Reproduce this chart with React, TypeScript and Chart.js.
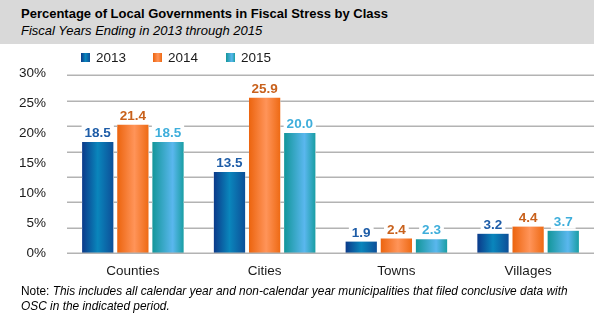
import React, { useEffect, useRef } from "react";
import { Chart, registerables } from "chart.js";

Chart.register(...registerables);

const categories = ["Counties", "Cities", "Towns", "Villages"];
const seriesNames = ["2013", "2014", "2015"];
const values2013 = [18.5, 13.5, 1.9, 3.2];
const values2014 = [21.4, 25.9, 2.4, 4.4];
const values2015 = [18.5, 20.0, 2.3, 3.7];
const yTickValues = [0, 5, 10, 15, 20, 25, 30];
const yTickLabels = ["0%", "5%", "10%", "15%", "20%", "25%", "30%"];
// horizontal gridlines in the original sit at their own spacing (8 lines), not at the labelled ticks
const gridLineValues = [0, 4.23, 8.46, 12.69, 16.91, 21.14, 25.37, 29.6];

const FONT = '"Liberation Sans", Arial, Helvetica, sans-serif';
const GRID_COLOR = "#b3b3b3";

const gradientStops: [number, string][][] = [
  [[0, "#0b3a8a"], [0.5, "#0a86bc"], [1, "#0d4f98"]],
  [[0, "#ec640e"], [0.55, "#ff9459"], [1, "#ee6a14"]],
  [[0, "#13969a"], [0.65, "#5ab7ee"], [1, "#1a9ea4"]],
];
const labelColors = ["#1d5ca7", "#c8611c", "#3eaedb"];
const swatchCss = gradientStops.map(
  (s) => `linear-gradient(to right, ${s.map(([o, c]) => `${c} ${o * 100}%`).join(", ")})`
);

const gradientPlugin = {
  id: "barGradient",
  beforeDatasetsDraw(chart: any) {
    const ctx = chart.ctx;
    chart.data.datasets.forEach((_ds: any, di: number) => {
      const meta = chart.getDatasetMeta(di);
      meta.data.forEach((el: any) => {
        const { x, width } = el.getProps(["x", "width"], true);
        const g = ctx.createLinearGradient(x - width / 2, 0, x + width / 2, 0);
        gradientStops[di].forEach(([o, c]) => g.addColorStop(o, c));
        el.options = Object.assign({}, el.options, { backgroundColor: g });
      });
    });
  },
};

// gridlines drawn after the bars, clipped so they stay behind the bars visually
const gridAndLabelPlugin = {
  id: "gridAndLabels",
  afterDatasetsDraw(chart: any) {
    const ctx = chart.ctx;
    const yScale = chart.scales.y;
    const area = chart.chartArea;

    ctx.save();
    ctx.beginPath();
    ctx.rect(area.left, area.top - 3, area.right - area.left, area.bottom - area.top + 6);
    chart.data.datasets.forEach((_ds: any, di: number) => {
      chart.getDatasetMeta(di).data.forEach((el: any) => {
        const { x, y, base, width } = el.getProps(["x", "y", "base", "width"], true);
        ctx.rect(x - width / 2, Math.min(y, base), width, Math.abs(base - y) - 1);
      });
    });
    ctx.clip("evenodd");
    ctx.strokeStyle = GRID_COLOR;
    ctx.lineWidth = 1.5;
    gridLineValues.forEach((v) => {
      const py = Math.round(yScale.getPixelForValue(v)) + 0.25;
      ctx.beginPath();
      ctx.moveTo(area.left, py);
      ctx.lineTo(area.right, py);
      ctx.stroke();
    });
    ctx.restore();

    ctx.save();
    ctx.font = `bold 13.5px ${FONT}`;
    ctx.textAlign = "center";
    ctx.textBaseline = "alphabetic";
    chart.data.datasets.forEach((ds: any, di: number) => {
      const meta = chart.getDatasetMeta(di);
      meta.data.forEach((el: any, i: number) => {
        const text = Number(ds.data[i]).toFixed(1);
        const w = ctx.measureText(text).width;
        const baseY = el.y - 5;
        ctx.fillStyle = "#ffffff";
        ctx.fillRect(el.x - w / 2 - 3, baseY - 12.5, w + 6, 15.5);
        ctx.fillStyle = labelColors[di];
        ctx.fillText(text, el.x, baseY);
      });
    });
    ctx.restore();
  },
};

export default function App() {
  const canvasRef = useRef<HTMLCanvasElement | null>(null);

  useEffect(() => {
    if (!canvasRef.current) return;
    const seriesValues = [values2013, values2014, values2015];
    const chart = new Chart(canvasRef.current, {
      type: "bar",
      data: {
        labels: categories,
        datasets: seriesNames.map((name, i) => ({
          label: name,
          data: seriesValues[i],
          backgroundColor: gradientStops[i][0][1],
          borderWidth: 0,
          categoryPercentage: 0.8,
          barPercentage: 0.89,
        })),
      },
      options: {
        responsive: false,
        animation: false,
        devicePixelRatio: 1,
        layout: { padding: { top: 24, bottom: 11, left: 0, right: 0 } },
        plugins: {
          legend: { display: false },
          tooltip: { enabled: false },
          title: { display: false },
        },
        scales: {
          x: {
            grid: { display: false, drawTicks: false },
            border: { display: false },
            ticks: {
              font: { family: FONT, size: 13.5 },
              color: "#1a1a1a",
              padding: 10,
            },
            afterFit: (s: any) => {
              s.height = 30;
            },
          },
          y: {
            min: 0,
            max: 30,
            grid: { display: false, drawTicks: false },
            border: { display: false },
            afterBuildTicks: (s: any) => {
              s.ticks = yTickValues.map((v) => ({ value: v }));
            },
            ticks: {
              autoSkip: false,
              font: { family: FONT, size: 13.5 },
              color: "#1a1a1a",
              padding: 21,
              callback: (v: any) => {
                const k = yTickValues.indexOf(Number(v));
                return k >= 0 ? yTickLabels[k] : "";
              },
            },
            afterFit: (s: any) => {
              s.width = 67;
            },
          },
        },
      } as any,
      plugins: [gradientPlugin, gridAndLabelPlugin],
    });
    return () => chart.destroy();
  }, []);

  const legendPos = [
    { sx: 81, tx: 96 },
    { sx: 153, tx: 168 },
    { sx: 226, tx: 241 },
  ];

  return (
    <div
      style={{
        position: "fixed",
        left: 0,
        top: 0,
        width: 594,
        height: 330,
        background: "#ffffff",
        fontFamily: FONT,
        overflow: "hidden",
      }}
    >
      <div
        style={{
          position: "absolute",
          left: 0,
          top: 0,
          width: 594,
          height: 44,
          background: "#d9d9d9",
        }}
      >
        <div
          style={{
            position: "absolute",
            left: 21,
            top: 6,
            fontSize: 13,
            lineHeight: "16.5px",
            color: "#000",
            whiteSpace: "nowrap",
          }}
        >
          <div style={{ fontWeight: "bold" }}>
            Percentage of Local Governments in Fiscal Stress by Class
          </div>
          <div style={{ fontStyle: "italic" }}>Fiscal Years Ending in 2013 through 2015</div>
        </div>
      </div>

      <canvas
        ref={canvasRef}
        width={594}
        height={250}
        style={{ position: "absolute", left: 0, top: 44, width: 594, height: 250, display: "block" }}
      />

      {seriesNames.map((name, i) => (
        <React.Fragment key={name}>
          <div
            style={{
              position: "absolute",
              left: legendPos[i].sx,
              top: 53,
              width: 9,
              height: 9,
              background: swatchCss[i],
            }}
          />
          <div
            style={{
              position: "absolute",
              left: legendPos[i].tx,
              top: 50,
              fontSize: 13.5,
              lineHeight: "16px",
              color: "#1a1a1a",
              whiteSpace: "nowrap",
            }}
          >
            {name}
          </div>
        </React.Fragment>
      ))}

      <div
        style={{
          position: "absolute",
          left: 21,
          top: 283.5,
          fontSize: 11.9,
          lineHeight: "15.5px",
          color: "#000",
          whiteSpace: "nowrap",
        }}
      >
        Note:{" "}
        <i>
          This includes all calendar year and non-calendar year municipalities that filed conclusive data with
          <br />
          OSC in the indicated period.
        </i>
      </div>
    </div>
  );
}
